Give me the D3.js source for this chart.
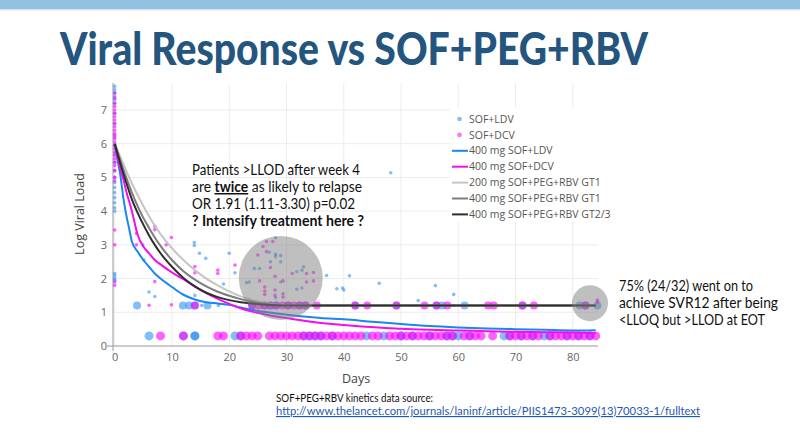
<!DOCTYPE html>
<html><head><meta charset="utf-8">
<script src="https://cdn.jsdelivr.net/npm/d3@7"></script>
<style>body{margin:0;background:#fff}svg{display:block}</style>
</head><body>
<script>
// ---------- DATA ----------
const xTicks = [0,10,20,30,40,50,60,70,80];
const yTicks = [0,1,2,3,4,5,6,7];
const LLOQ = 1.2, LLOD = 0.3;

// SOF+LDV detected (small) points
const ldvDays  = [0,0,0,0,0,0,0,0,0,0,0,0,0,0,0,0,0,0,0,0,0,0,0,0,0,
  4.9,5.1,6,7,13.9,13.9,14,14.8,15.9,15.2,18.1,19,20,21,23,23.5,24.4,25.3,27,27.2,28.1,28.1,28.1,28.1,29,29,29,31.8,31.8,32.7,32.7,33,37,38.8,39.8,40,41,44,46.2,48.2,53,56,59.2,59.2];
const ldvLoads = [7.7,7.6,7.5,7.4,7.3,7.2,6.9,6.6,6.2,5.95,5.7,5.45,5.2,5.0,4.85,4.7,4.55,4.4,4.25,4.1,4.0,2.15,2.08,2.0,1.95,
  3.0,2.55,1.6,1.47,3.07,2.98,1.5,2.75,2.6,1.2,1.2,1.84,2.75,2.17,1.88,1.9,2.3,2.3,2.78,2.5,3.21,2.72,2.65,1.43,2.68,2.5,1.9,2.2,1.68,2.25,1.72,2.35,2.09,1.7,1.72,1.66,2.08,1.2,1.86,5.14,1.35,1.79,1.53,1.2];
// SOF+DCV detected (small) points
const dcvDays  = [0,0,0,0,0,0,0,0,0,0,0,0,0,0,0,0,0,0,0,0,0,0,0,0,0,0,0,0,0,
  3.8,3.8,6,7,7,7,9,9.9,9.9,14,14,18,18,21,25,25.3,25.9,26.2,26.2,26.2,26.5,26.5,27.2,27.6,28,28,28,29.4,29.4,29.4,31,33.5,33.5,34.7,34.7,84.3,84.3];
const dcvLoads = [7.5,7.35,7.2,7.1,7.0,6.9,6.8,6.7,6.6,6.5,6.4,6.3,6.25,6.15,6.05,5.95,5.85,5.75,5.65,5.55,5.45,5.35,5.2,5.0,4.9,3.44,3.0,1.9,1.8,
  3.34,3.0,1.21,3.55,3.45,1.91,3.0,3.22,1.22,2.36,2.17,2.25,2.15,2.4,2.7,1.93,2.95,1.75,1.63,1.53,3.1,2.8,2.33,3.1,2.07,1.66,1.5,1.93,1.55,1.45,2.15,2.15,1.9,2.18,1.93,1.36,1.3];

// Big points on the LLOQ (1.2) and LLOD (0.3) levels
const ldvLloqDays = [3.9,11.9,13,14,16.2,24,26.2,27.2,28.2,30.3,32.3,33.3,42,49.2,56.2,57.2,61.1,71.2,81.2,82.2,84.3];
const dcvLloqDays = [14,24,25.2,26.2,27.2,28.2,29.3,30.3,31.3,32.3,33.3,35.3,42,44.1,49.2,54.1,56.2,58.1,65.2,66.2,71.2,73.2,82.2];
const ldvLlodDays = [6,12,14,14,21,22,33,34,35,36,38,44,47,50,52,55,58,59,60,62,68,69,71,73,75,76,79,81,83];
const dcvLlodDays = [8,12,18,19,22,23,24,25,27,28,29,30,31,32,33,34,35,36,37,38,39,40,41,42,43,45,46,48,49,50,51,52,53,54,55,56,57,58,59,61,62,63,64,66,69,70,71,72,73,74,76,77,78,79,80,81,82,83,84];

// Model curves
const blueDays = [0,0.5,1,1.5,2,2.5,3,4,5,6,7,8,10,12,14,16,18,20,22,25,28,32,36,40,45,50,55,60,65,70,75,80,84];
const blueVals = [6,5.5,5.05,4.4,3.9,3.5,3.1,2.8,2.55,2.35,2.15,2.0,1.75,1.52,1.38,1.3,1.26,1.22,1.14,1.04,0.97,0.89,0.83,0.79,0.72,0.65,0.59,0.55,0.52,0.5,0.48,0.46,0.47];
const magDays  = [0,0.5,1,1.5,2,3,4,5,6,7,8,10,12,14,16,18,20,22,24,27,30,34,38,42,46,50,55,60,65,70,75,80,84];
const magVals  = [6,5.6,5.25,4.95,4.6,4.0,3.3,2.95,2.75,2.55,2.42,2.18,1.98,1.76,1.57,1.4,1.25,1.12,1.02,0.91,0.83,0.73,0.65,0.59,0.55,0.51,0.48,0.46,0.44,0.42,0.41,0.4,0.38];
const pegDays  = [0,1,2,3,4,5,6,7,8,10,12,14,16,18,20,22,24,26,28,30,32,40,84];
const peg200Vals = [6,5.6,5.2,4.82,4.48,4.15,3.85,3.57,3.32,2.9,2.55,2.25,2.0,1.8,1.62,1.47,1.36,1.28,1.23,1.21,1.2,1.2,1.2];
const peg400Vals = [6,5.5,5.0,4.55,4.15,3.8,3.5,3.22,2.97,2.55,2.22,1.97,1.77,1.61,1.49,1.39,1.31,1.26,1.22,1.2,1.2,1.2,1.2];
const gt23Vals   = [6,5.4,4.85,4.35,3.95,3.6,3.28,3.0,2.75,2.35,2.02,1.77,1.58,1.45,1.36,1.3,1.26,1.23,1.21,1.2,1.2,1.2,1.2];

const legendLabels = ["SOF+LDV","SOF+DCV","400 mg SOF+LDV","400 mg SOF+DCV","200 mg SOF+PEG+RBV GT1","400 mg SOF+PEG+RBV GT1","400 mg SOF+PEG+RBV GT2/3"];

// highlight circles: [day, load]
const bigCircle = [29, 2.02];
const smallCircle = [83, 1.27];

// ---------- DRAW ----------
const W = 800, H = 436;
const svg = d3.select("body").append("svg").attr("width", W).attr("height", H);
const FONT = "'Open Sans', sans-serif";
const TFONT = "Lato, 'Open Sans', sans-serif";

svg.append("rect").attr("x",0).attr("y",0).attr("width",W).attr("height",9).attr("fill","#92c1e1");
svg.append("rect").attr("x",0).attr("y",9).attr("width",W).attr("height",1.5).attr("fill","#d4e6f3");

svg.append("text").attr("x",60).attr("y",65)
  .attr("font-family",TFONT).attr("font-weight",900).attr("font-size",46)
  .attr("fill","#24557f").attr("textLength",588).attr("lengthAdjust","spacingAndGlyphs")
  .text("Viral Response vs SOF+PEG+RBV");

const x = d3.scaleLinear().domain([-0.3, 84.4]).range([113, 598]);
const y = d3.scaleLinear().domain([0, 7.8]).range([346, 83]);

// grid
const g = svg.append("g");
g.selectAll(".vg").data(xTicks).join("line")
  .attr("x1",d=>x(d)).attr("x2",d=>x(d)).attr("y1",y(7.8)).attr("y2",y(0))
  .attr("stroke","#ececec").attr("stroke-width",1);
g.selectAll(".hg").data(yTicks.filter(d=>d>0)).join("line")
  .attr("x1",113).attr("x2",598).attr("y1",d=>y(d)).attr("y2",d=>y(d))
  .attr("stroke","#ececec").attr("stroke-width",1);

// axes
const xAxis = svg.append("g").attr("transform",`translate(0,${y(0)})`)
  .call(d3.axisBottom(x).tickValues(xTicks).tickSize(0).tickPadding(7));
const yAxis = svg.append("g").attr("transform",`translate(113,0)`)
  .call(d3.axisLeft(y).tickValues(yTicks).tickSize(0).tickPadding(6));
[xAxis,yAxis].forEach(a=>{
  a.select(".domain").remove();
  a.selectAll("text").attr("font-family",FONT).attr("font-size",11).attr("fill","#666");
});
svg.append("line").attr("x1",107).attr("x2",598).attr("y1",y(0)).attr("y2",y(0)).attr("stroke","#999");
svg.append("line").attr("x1",113).attr("x2",113).attr("y1",y(7.8)).attr("y2",y(0)+5).attr("stroke","#999");

// axis titles
svg.append("text").attr("transform","translate(84,214) rotate(-90)").attr("text-anchor","middle")
  .attr("font-family",FONT).attr("font-size",12.5).attr("fill","#444").text("Log Viral Load");
svg.append("text").attr("x",356).attr("y",383).attr("text-anchor","middle")
  .attr("font-family",FONT).attr("font-size",12.5).attr("fill","#444").text("Days");

// scatter
const LDVC = "rgba(30,136,240,0.55)", DCVC = "rgba(255,0,255,0.62)";
const pts = svg.append("g");
function dots(days, loads, r, col){
  pts.append("g").selectAll("circle").data(days.map((d,i)=>[d,loads[i]])).join("circle")
    .attr("cx",d=>x(d[0])).attr("cy",d=>y(d[1])).attr("r",r).attr("fill",col);
}
dots(ldvDays, ldvLoads, 1.8, LDVC);
dots(ldvLloqDays, ldvLloqDays.map(()=>LLOQ), 4, LDVC);
dots(ldvLlodDays, ldvLlodDays.map(()=>LLOD), 4.5, LDVC);
dots(dcvDays, dcvLoads, 1.8, DCVC);
dots(dcvLloqDays, dcvLloqDays.map(()=>LLOQ), 4, DCVC);
dots(dcvLlodDays, dcvLlodDays.map(()=>LLOD), 4.5, DCVC);

// curves
const lineGen = d3.line().x(d=>x(d[0])).y(d=>y(d[1])).curve(d3.curveMonotoneX);
const curves = [
  [blueDays, blueVals, "#1a86f0"],
  [magDays, magVals, "#f50cf0"],
  [pegDays, peg200Vals, "#c6c6c6"],
  [pegDays, peg400Vals, "#7d7d7d"],
  [pegDays, gt23Vals, "#2e2e2e"]
];
curves.forEach(([ds, vs, c])=>{
  svg.append("path").attr("d", lineGen(ds.map((d,i)=>[d,vs[i]])))
    .attr("fill","none").attr("stroke",c).attr("stroke-width",2);
});

// highlight circles
svg.append("circle").attr("cx",x(bigCircle[0])).attr("cy",y(bigCircle[1])).attr("r",42)
  .attr("fill","rgba(128,128,128,0.5)");
svg.append("circle").attr("cx",x(smallCircle[0])).attr("cy",y(smallCircle[1])).attr("r",18)
  .attr("fill","rgba(128,128,128,0.5)");

// legend
const lg = svg.append("g");
lg.append("rect").attr("x",450).attr("y",108).attr("width",200).attr("height",114).attr("fill","#fff");
const legendStyle = [
  {t:"dot", c:"rgba(30,136,240,0.55)"},
  {t:"dot", c:"rgba(255,0,255,0.55)"},
  {t:"line", c:"#1a86f0"},
  {t:"line", c:"#f50cf0"},
  {t:"line", c:"#c6c6c6"},
  {t:"line", c:"#7d7d7d"},
  {t:"line", c:"#2e2e2e"}
];
legendLabels.forEach((lab,i)=>{
  const cy = 119 + i*15.9;
  const s = legendStyle[i];
  if(s.t==="dot") lg.append("circle").attr("cx",459.5).attr("cy",cy).attr("r",2.3).attr("fill",s.c);
  else lg.append("line").attr("x1",452).attr("x2",468).attr("y1",cy).attr("y2",cy).attr("stroke",s.c).attr("stroke-width",2);
  lg.append("text").attr("x",469).attr("y",cy).attr("dy","0.35em")
    .attr("font-family",FONT).attr("font-size",10.5).attr("fill","#555").text(lab);
});

// annotations
const ann = svg.append("g").attr("font-family",TFONT).attr("font-size",15).attr("fill","#111");
ann.append("text").attr("x",192).attr("y",175).attr("textLength",168).attr("lengthAdjust","spacingAndGlyphs").text("Patients >LLOD after week 4");
const l2 = ann.append("text").attr("x",192).attr("y",192).attr("textLength",170).attr("lengthAdjust","spacingAndGlyphs");
l2.append("tspan").text("are ");
l2.append("tspan").attr("font-weight",700).attr("text-decoration","underline").text("twice");
l2.append("tspan").text(" as likely to relapse");
ann.append("text").attr("x",192).attr("y",209).attr("textLength",163).attr("lengthAdjust","spacingAndGlyphs").text("OR 1.91 (1.11-3.30) p=0.02");
ann.append("text").attr("x",192).attr("y",226).attr("font-weight",700).attr("textLength",172).attr("lengthAdjust","spacingAndGlyphs").text("? Intensify treatment here ?");

ann.append("text").attr("x",619).attr("y",291).attr("textLength",134).attr("lengthAdjust","spacingAndGlyphs").text("75% (24/32) went on to");
ann.append("text").attr("x",619).attr("y",308).attr("textLength",159).attr("lengthAdjust","spacingAndGlyphs").text("achieve SVR12 after being");
ann.append("text").attr("x",619).attr("y",325).attr("textLength",146).attr("lengthAdjust","spacingAndGlyphs").text("<LLOQ but >LLOD at EOT");

// source
svg.append("text").attr("x",276).attr("y",402).attr("font-family",TFONT).attr("font-size",11.5).attr("fill","#111")
  .attr("textLength",157).attr("lengthAdjust","spacingAndGlyphs").text("SOF+PEG+RBV kinetics data source:");
svg.append("text").attr("x",276).attr("y",415).attr("font-family",TFONT).attr("font-size",11.5).attr("fill","#1f57b5")
  .attr("text-decoration","underline").attr("textLength",424).attr("lengthAdjust","spacingAndGlyphs")
  .text("http://www.thelancet.com/journals/laninf/article/PIIS1473-3099(13)70033-1/fulltext");
</script>
</body></html>
